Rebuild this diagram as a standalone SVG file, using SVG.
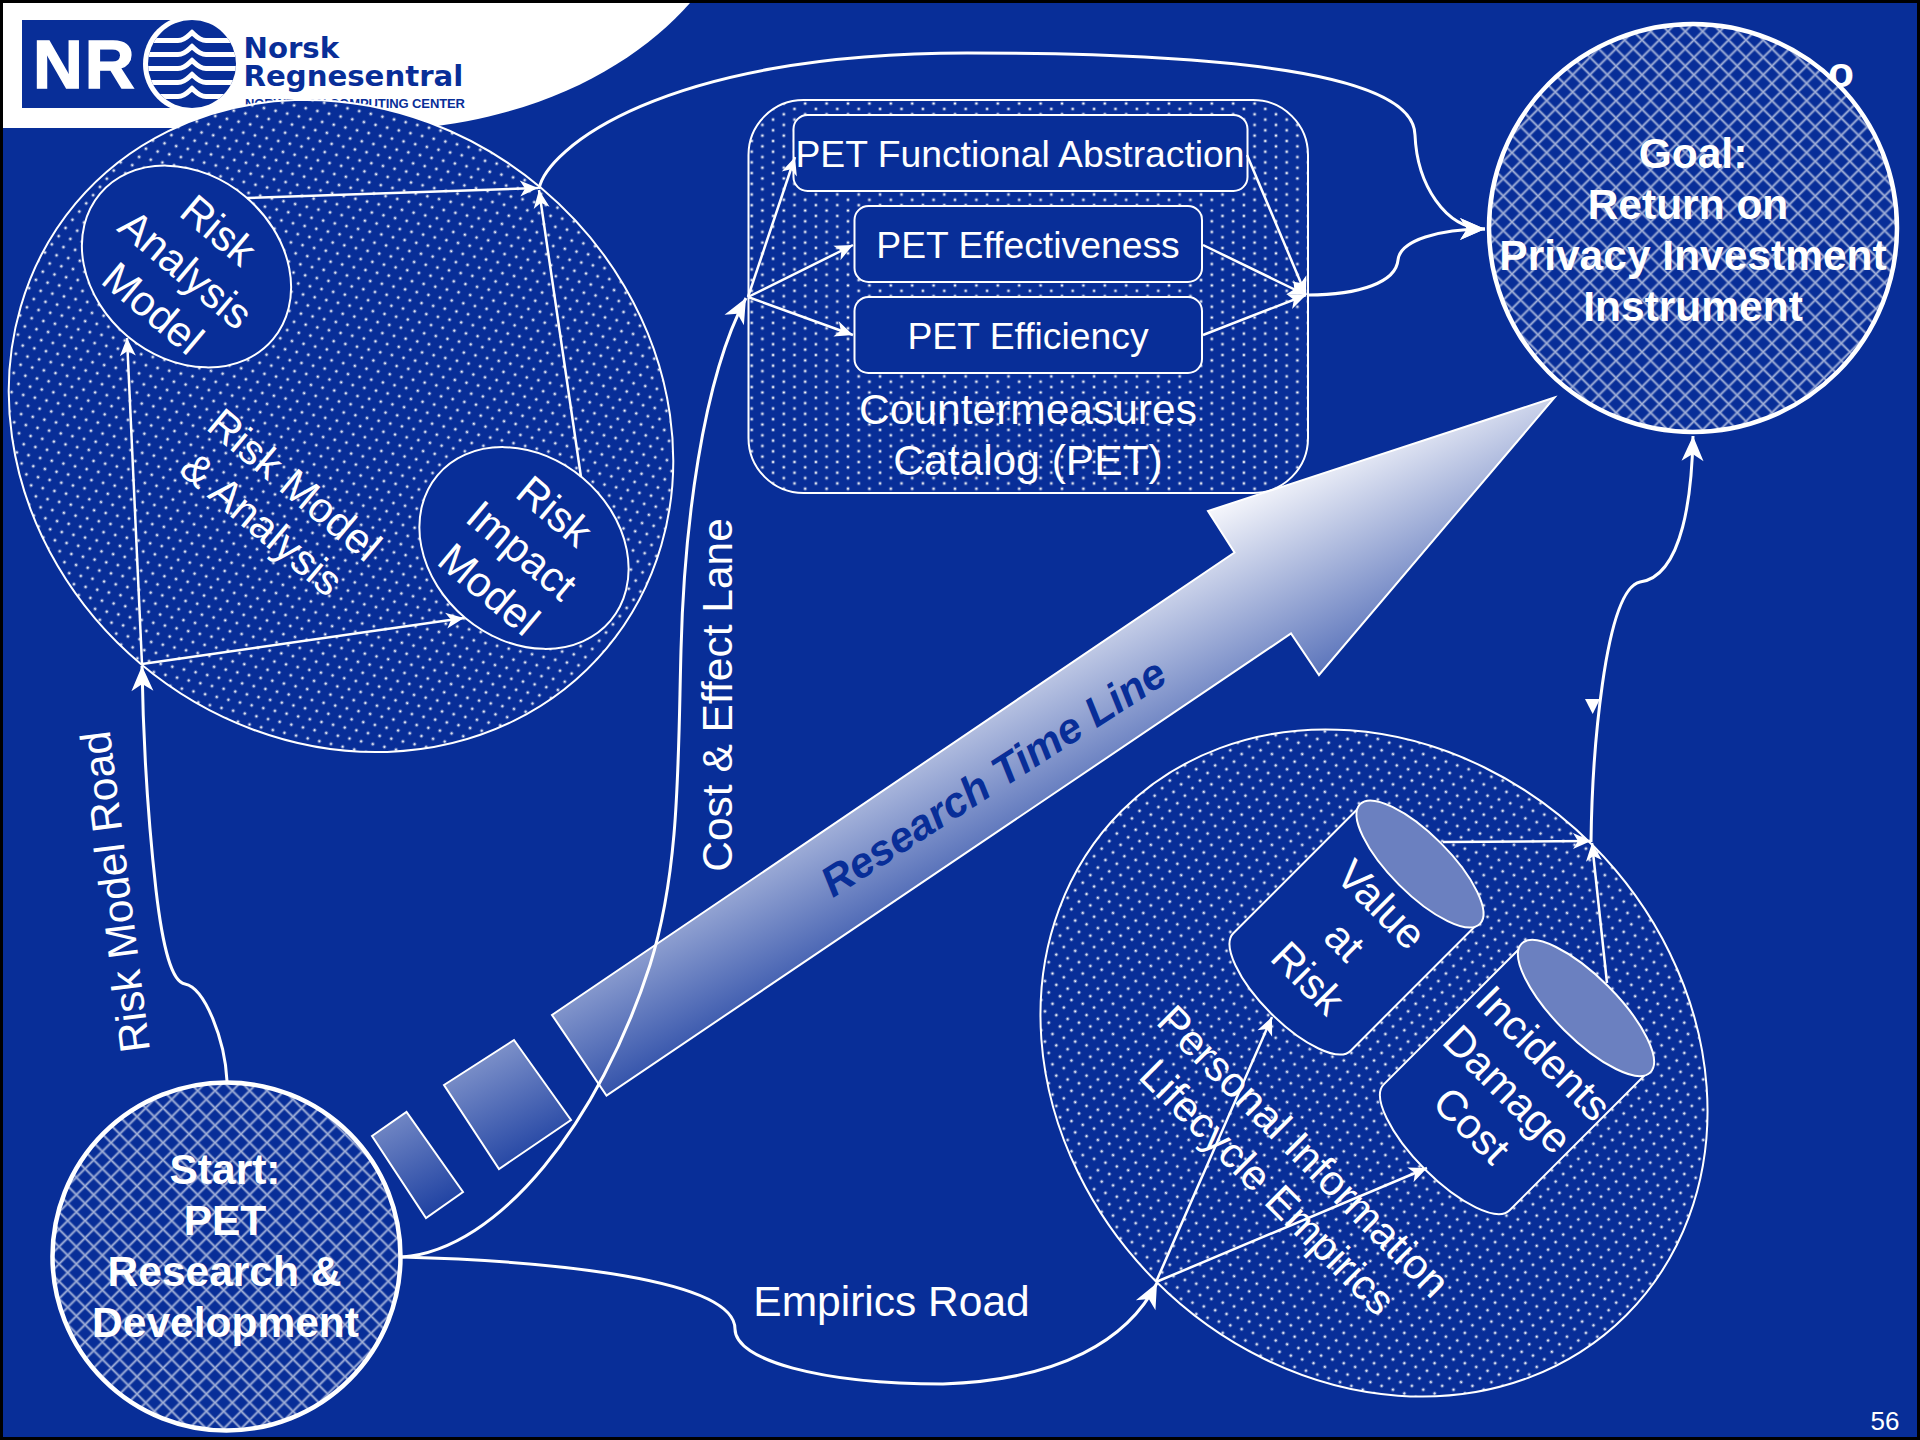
<svg xmlns="http://www.w3.org/2000/svg" width="1920" height="1440" viewBox="0 0 1920 1440">
<style>
text{font-family:"Liberation Sans",Arial,sans-serif;fill:#fff;text-anchor:middle}
.t{font-size:42.5px}
.b{font-size:37.3px}
.h{font-size:42.5px;font-weight:bold}
.o{stroke:#fff;stroke-width:2}
.bg{fill:#082e98}
.d{fill:url(#dots);stroke:#fff;stroke-width:2}
.x{stroke:#fff;stroke-width:4.5}
.ln{fill:none;stroke:#fff;stroke-width:3}
.sl{fill:none;stroke:#fff;stroke-width:2.5}
.g{fill:url(#tl);stroke:#fff;stroke-width:2}
.cap{fill:#6b80c0;stroke:#fff;stroke-width:2}
.lg{fill:#082e98;text-anchor:start;font-family:"DejaVu Sans",sans-serif;font-weight:bold;font-size:29.2px}
</style>
<defs>
<pattern id="dots" width="21.4" height="10.7" patternUnits="userSpaceOnUse" patternTransform="translate(302.3 151.7)">
<rect width="21.4" height="10.7" fill="#082e98"/>
<g fill="#fff">
<circle cx="0" cy="0" r="1.9" opacity=".35"/><circle cx="21.4" cy="0" r="1.9" opacity=".35"/><circle cx="0" cy="10.7" r="1.9" opacity=".35"/><circle cx="21.4" cy="10.7" r="1.9" opacity=".35"/>
<circle cx="10.7" cy="5.35" r="1.9" opacity=".35"/>
<circle cx="0" cy="0" r="1"/><circle cx="21.4" cy="0" r="1"/><circle cx="0" cy="10.7" r="1"/><circle cx="21.4" cy="10.7" r="1"/>
<circle cx="10.7" cy="5.35" r="1"/>
</g>
</pattern>
<g id="hx">
<rect width="17.33" height="17.33" fill="#082e98"/>
<path d="M0 0L17.33 17.33M17.33 0L0 17.33" stroke="#fff" stroke-width="2.6" opacity=".35" fill="none"/>
<path d="M0 0L17.33 17.33M17.33 0L0 17.33" stroke="#fff" stroke-width="1" opacity=".45" fill="none"/>
</g>
<pattern id="hatchG" width="17.33" height="17.33" patternUnits="userSpaceOnUse" patternTransform="translate(1633.3 343.3)"><use href="#hx"/></pattern>
<pattern id="hatchS" width="17.33" height="17.33" patternUnits="userSpaceOnUse" patternTransform="translate(171.7 1116.7)"><use href="#hx"/></pattern>
<linearGradient id="tl" gradientUnits="userSpaceOnUse" x1="1207" y1="511" x2="1345" y2="781">
<stop offset="0" stop-color="#f6f7fc"/><stop offset="1" stop-color="#082e98"/>
</linearGradient>
<marker id="ah" markerUnits="userSpaceOnUse" viewBox="-26 -12 28 24" markerWidth="28" markerHeight="24" refX="0" refY="0" orient="auto">
<path d="M0 0L-25 -11L-18 0L-25 11Z" fill="#fff"/>
</marker>
<marker id="as" markerUnits="userSpaceOnUse" viewBox="-20 -10 22 20" markerWidth="22" markerHeight="20" refX="0" refY="0" orient="auto">
<path d="M0 0L-18 -8L-13 0L-18 8Z" fill="#fff"/>
</marker>
<clipPath id="lc"><circle cx="192" cy="64" r="44"/></clipPath>
</defs>

<rect class="bg" width="1920" height="1440"/>

<g id="logo">
<path d="M3 3H690C640 60 550 115 420 128H3Z" fill="#fff"/>
<rect x="22" y="20" width="150" height="88" class="bg"/>
<circle cx="192" cy="64" r="49" fill="#fff"/>
<circle cx="192" cy="64" r="44" class="bg"/>
<g clip-path="url(#lc)" fill="none" stroke="#fff" stroke-width="5">
<path d="M140 40.500H178C185 40.500 188 36 192 32.500C196 36 199 40.500 206 40.500H244"/>
<path d="M140 54.500H178C185 54.500 188 50 192 46.500C196 50 199 54.500 206 54.500H244"/>
<path d="M140 68.500H178C185 68.500 188 64 192 60.500C196 64 199 68.500 206 68.500H244"/>
<path d="M140 82.500H178C185 82.500 188 78 192 74.500C196 78 199 82.500 206 82.500H244"/>
<path d="M140 96.500H178C185 96.500 188 92 192 88.500C196 92 199 96.500 206 96.500H244"/>
</g>
<text x="33" y="88" style="font-size:69px;font-weight:bold;text-anchor:start;letter-spacing:2px;stroke:#fff;stroke-width:1.5">NR</text>
<text class="lg" x="243.500" y="58">Norsk</text>
<text class="lg" x="243.500" y="86">Regnesentral</text>
<text x="245" y="108" textLength="220" style="font-size:13px;font-weight:bold;fill:#082e98;text-anchor:start">NORWEGIAN COMPUTING CENTER</text>
</g>

<g id="risk-model-analysis">
<ellipse class="d" cx="341" cy="426" rx="346.400" ry="311" transform="rotate(40 341 426)"/>
<text class="t" transform="translate(278.500 504) rotate(40)"><tspan x="0" y="-10.500">Risk Model</tspan><tspan x="0" y="40.500">&amp; Analysis</tspan></text>
</g>
<g id="risk-analysis-model">
<ellipse class="o bg" cx="186.500" cy="266.500" rx="113" ry="91.400" transform="rotate(40 186.500 266.500)"/>
<text class="t" transform="translate(186 269) rotate(40)"><tspan x="0" y="-36">Risk</tspan><tspan x="0" y="15">Analysis</tspan><tspan x="0" y="66">Model</tspan></text>
</g>
<g id="risk-impact-model">
<ellipse class="o bg" cx="524" cy="548" rx="113" ry="91.400" transform="rotate(40 524 548)"/>
<text class="t" transform="translate(522 550) rotate(40)"><tspan x="0" y="-36">Risk</tspan><tspan x="0" y="15">Impact</tspan><tspan x="0" y="66">Model</tspan></text>
</g>

<g id="countermeasures-catalog">
<rect class="d" x="748.500" y="100" width="559.500" height="393" rx="55"/>
<text class="t"><tspan x="1028" y="423.500">Countermeasures</tspan><tspan x="1028" y="475">Catalog (PET)</tspan></text>
</g>
<g id="pet-functional">
<rect class="o bg" x="793.500" y="115" width="454" height="76" rx="14"/>
<text class="b" x="1020" y="167">PET Functional Abstraction</text>
</g>
<g id="pet-effectiveness">
<rect class="o bg" x="854.500" y="206" width="347.500" height="76" rx="14"/>
<text class="b" x="1028" y="258">PET Effectiveness</text>
</g>
<g id="pet-efficiency">
<rect class="o bg" x="854.500" y="297" width="347.500" height="76" rx="14"/>
<text class="b" x="1028" y="349">PET Efficiency</text>
</g>

<g id="empirics">
<ellipse class="d" cx="1374" cy="1063" rx="356.700" ry="308.600" transform="rotate(45 1374 1063)"/>
<text class="t" transform="translate(1286 1169) rotate(45)"><tspan x="0" y="-10.500">Personal Information</tspan><tspan x="0" y="40.500">Lifecycle Empirics</tspan></text>
</g>
<g id="value-at-risk">
<g transform="translate(1420 864) rotate(45)">
<path class="o bg" d="M-83 0V181A83 30 0 0 0 83 181V0Z"/>
<ellipse class="cap" rx="84.700" ry="29.500"/>
</g>
<text class="t" transform="translate(1345 941) rotate(45)"><tspan x="0" y="-37">Value</tspan><tspan x="0" y="15">at</tspan><tspan x="0" y="67">Risk</tspan></text>
</g>
<g id="incidents-damage-cost">
<g transform="translate(1586 1008) rotate(45)">
<path class="o bg" d="M-89 0V197A89 31 0 0 0 89 197V0Z"/>
<ellipse class="cap" rx="91" ry="31"/>
</g>
<text class="t" transform="translate(1508 1089) rotate(45)"><tspan x="0" y="-36">Incidents</tspan><tspan x="0" y="15">Damage</tspan><tspan x="0" y="66">Cost</tspan></text>
</g>

<g id="goal">
<text x="1841" y="87" style="font-size:42.500px;font-weight:bold">o</text>
<circle class="x" fill="url(#hatchG)" cx="1693" cy="228" r="204"/>
<text class="h"><tspan x="1693" y="168">Goal:</tspan><tspan x="1688" y="219">Return on</tspan><tspan x="1693" y="270">Privacy Investment</tspan><tspan x="1693" y="321">Instrument</tspan></text>
</g>
<g id="start">
<circle class="x" fill="url(#hatchS)" cx="226.500" cy="1256.500" r="174"/>
<text class="h"><tspan x="225" y="1184">Start:</tspan><tspan x="225" y="1235">PET</tspan><tspan x="224.500" y="1286">Research &amp;</tspan><tspan x="225.500" y="1337">Development</tspan></text>
</g>

<g id="research-time-line">
<path class="g" d="M372 1136L406.500 1112L463 1192L426 1218Z"/>
<path class="g" d="M444 1085L514 1040L571 1120L499 1169Z"/>
<path class="g" d="M1554.500 397.500L1208 511L1234.500 552.500L552 1015L606.500 1095.500L1291 633.500L1319 675Z"/>
<text transform="translate(993 777) rotate(-32.800)" y="15" style="font-size:42.500px;font-weight:bold;font-style:italic;fill:#082e98">Research Time Line</text>
</g>

<g id="connectors">
<path class="ln" marker-end="url(#ah)" d="M539 189C546 150 660 53 967 53C1225 53 1414 73 1415 135C1417 184 1445 229 1485 229"/>
<path class="ln" marker-end="url(#ah)" d="M1308 295C1360 295 1396 282 1398 260C1400 240 1440 229 1485 229"/>
<path class="ln" marker-end="url(#ah)" d="M1591 842C1592 760 1604 590 1640 582C1684 576 1692 490 1693 436"/>
<path class="ln" marker-end="url(#ah)" d="M227 1081C225 1040 205 988 185 984C172 982 163 950 156 890C147 810 143 730 142 666"/>
<path class="ln" marker-end="url(#ah)" d="M402 1257C550 1261 735 1279 735 1329C735 1360 820 1384 943 1384C1060 1380 1128 1340 1157 1283"/>
<path class="ln" marker-end="url(#ah)" d="M402 1257C500 1250 600 1120 650 965C680 870 678 760 681 650C684 530 702 380 746 298"/>
<g class="sl">
<path marker-end="url(#as)" d="M247 198L538 188"/>
<path marker-end="url(#as)" d="M581 477L539 190"/>
<path marker-end="url(#as)" d="M142 664L127 338"/>
<path marker-end="url(#as)" d="M142 664L464 618"/>
<path marker-end="url(#as)" d="M748 297L795 157"/>
<path marker-end="url(#as)" d="M748 297L853 245"/>
<path marker-end="url(#as)" d="M748 297L853 335"/>
<path marker-end="url(#as)" d="M1247 155L1306 295"/>
<path marker-end="url(#as)" d="M1203 245L1306 295"/>
<path marker-end="url(#as)" d="M1203 335L1306 295"/>
<path marker-end="url(#as)" d="M1443 842L1591 841"/>
<path marker-end="url(#as)" d="M1607 983L1592 843"/>
<path marker-end="url(#as)" d="M1156 1282L1272 1017"/>
<path marker-end="url(#as)" d="M1156 1282L1427 1168"/>
</g>
<path d="M1585 699H1600L1592.700 714Z" fill="#fff"/>
</g>

<g id="labels">
<text class="t" transform="translate(129.700 890) rotate(-97.200)">Risk Model Road</text>
<text class="t" transform="translate(732 695) rotate(-90)">Cost &amp; Effect Lane</text>
<text class="t" x="891.500" y="1316">Empirics Road</text>
<text x="1885" y="1430" style="font-size:26px">56</text>
</g>

<rect x="1.500" y="1.500" width="1917" height="1437" fill="none" stroke="#000" stroke-width="3"/>
</svg>
